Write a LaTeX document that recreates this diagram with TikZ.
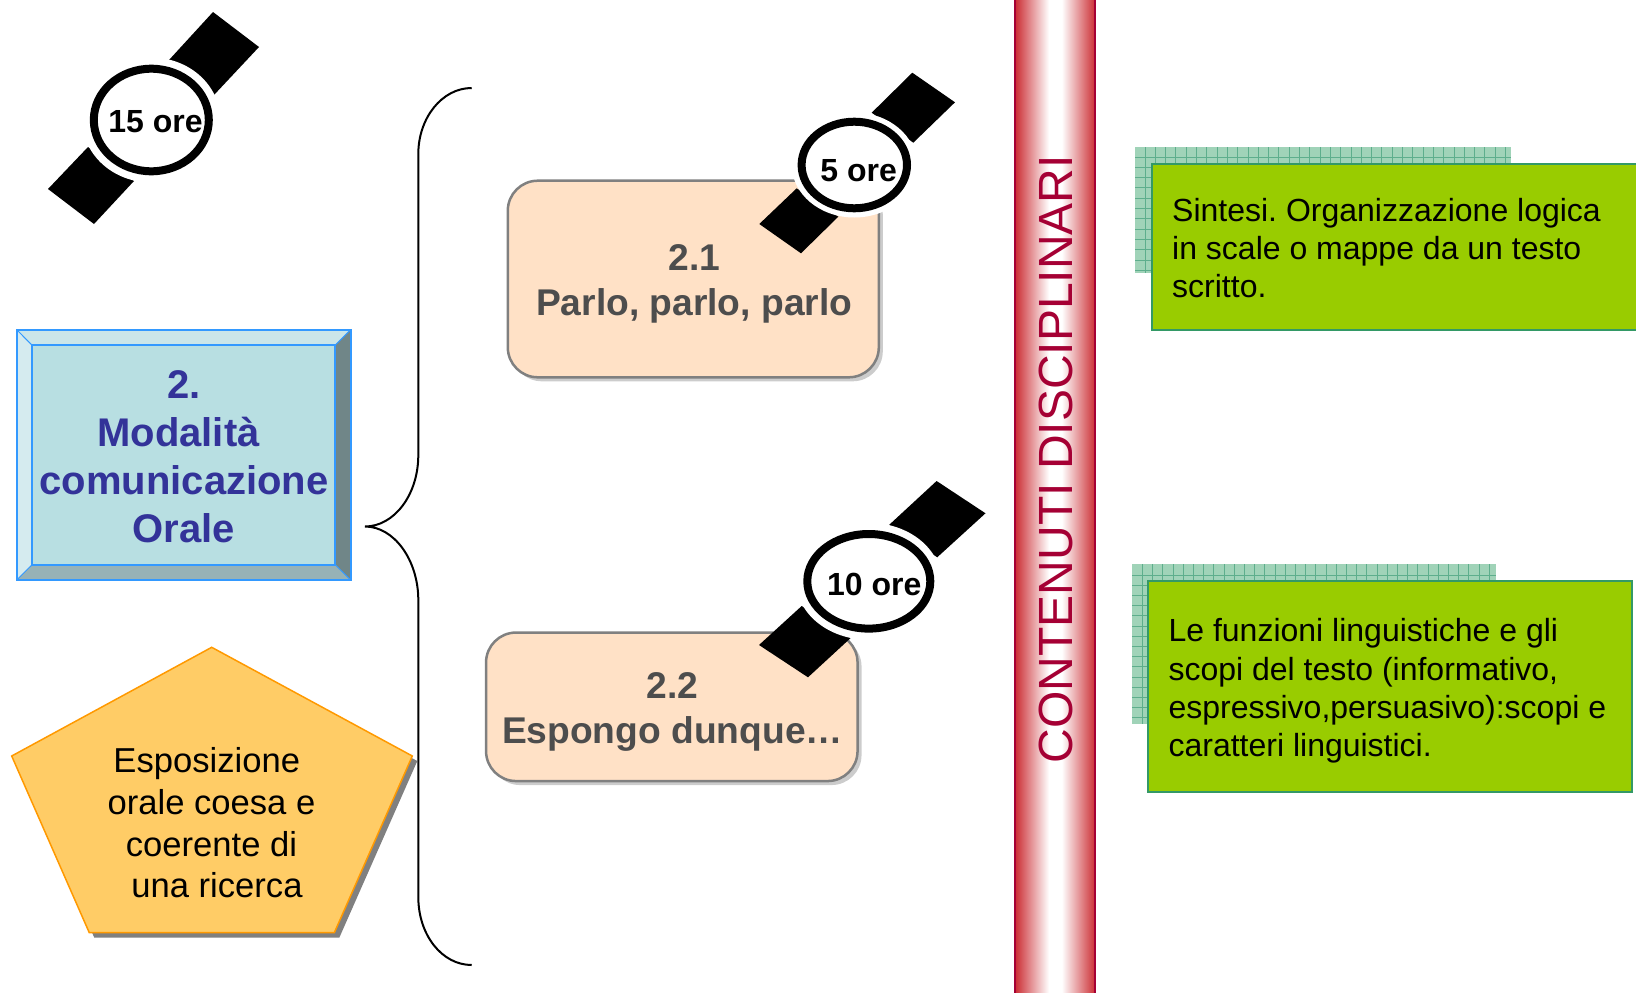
\documentclass[tikz,border=0pt]{standalone}
\usepackage{fontspec}
\setmainfont{Liberation Sans}
\usepackage{xcolor}
\usetikzlibrary{calc,shapes,shadows}

\definecolor{faccia}{HTML}{B8DFE2}
\definecolor{biancoblu}{HTML}{D5EBEF}
\definecolor{chiaroblu}{HTML}{CBE6E9}
\definecolor{scuroblu}{HTML}{708688}
\definecolor{medioblu}{HTML}{97B2B6}
\definecolor{bordoblu}{HTML}{3399FF}
\definecolor{testoblu}{HTML}{333399}
\definecolor{pesca}{HTML}{FFE1C6}
\definecolor{grigio}{HTML}{4D4D4D}
\definecolor{arancio}{HTML}{FFCC66}
\definecolor{bordoarancio}{HTML}{FF9900}
\definecolor{verde}{HTML}{99CC00}
\definecolor{bordoverde}{HTML}{339966}
\definecolor{trama}{HTML}{A0D3B8}
\definecolor{lineatrama}{HTML}{5DAE8C}
\definecolor{rossobarra}{HTML}{CC2F35}
\definecolor{bordobarra}{HTML}{A50034}

\pgfdeclarehorizontalshading{barrarossa}{100bp}{color(0bp)=(rossobarra);
	color(25bp)=(rossobarra); color(46bp)=(white); color(54bp)=(white);
	color(75bp)=(rossobarra); color(100bp)=(rossobarra)}

\begin{document}
\frenchspacing
\begin{tikzpicture}[x=1pt,y=-1pt,line join=miter]
		\tikzstyle{fase}=[draw=black!50,line width=2.5pt,fill=pesca,rounded corners=30pt,
			drop shadow={opacity=1,fill=black!20,shadow xshift=4pt,shadow yshift=-4pt}]
		\tikzstyle{titolofase}=[text=grigio,font=\fontsize{37.2}{44.5}\selectfont\bfseries,align=center,inner sep=0pt]
		\tikzstyle{casella}=[draw=bordoverde,line width=2pt,fill=verde,inner sep=0pt]
		\tikzstyle{testoverde}=[font=\fontsize{32}{38.4}\selectfont,align=left,anchor=west,inner sep=0pt]
		\tikzstyle{aureola}=[ellipse,fill=white,inner sep=0pt]
		\tikzstyle{quadrante}=[ellipse,draw=black,line width=8pt,inner sep=0pt]
		\tikzstyle{ore}=[font=\fontsize{32}{38}\selectfont\bfseries,inner sep=0pt]
		\tikzstyle{griglia}=[draw=lineatrama,line width=1pt]

		\clip (0,0) rectangle (1636,993);
		\useasboundingbox (0,0) rectangle (1636,993);

		\fill[faccia] (16.7,329.7) rectangle (350.6,580);
		\fill[chiaroblu] (16.7,329.7) -- (350.6,329.7) -- (335,345.4) -- (32.3,345.4) -- cycle;
		\fill[biancoblu] (16.7,329.7) -- (32.3,345.4) -- (32.3,564.5) -- (16.7,580) -- cycle;
		\fill[scuroblu] (350.6,329.7) -- (350.6,580) -- (335,564.5) -- (335,345.4) -- cycle;
		\fill[medioblu] (16.7,580) -- (350.6,580) -- (335,564.5) -- (32.3,564.5) -- cycle;
		\draw[bordoblu,line width=2pt] (16.7,329.7) rectangle (350.6,580);
		\draw[bordoblu,line width=2pt] (32.3,345.4) rectangle (335,564.5);
		\draw[bordoblu,line width=1pt] (16.7,329.7) -- (32.3,345.4) (350.6,329.7) -- (335,345.4)
			(16.7,580) -- (32.3,564.5) (350.6,580) -- (335,564.5);
		\node (modulo) [text=testoblu,font=\fontsize{40}{48}\selectfont\bfseries,align=center,inner sep=0pt]
			at (184,457) {2.\\Modalità\kern11pt\\comunicazione\\Orale};

		\filldraw[fill=arancio,draw=bordoarancio,line width=1.5pt,
			drop shadow={opacity=1,fill=black!50,shadow xshift=5pt,shadow yshift=-5pt}]
			(211.7,647.3) -- (412.3,756) -- (334.3,932.7) -- (89.3,932.7) -- (11.7,756) -- cycle;
		\node (obiettivo) [font=\fontsize{34.6}{41.7}\selectfont,align=center,inner sep=0pt] at (211.5,823)
			{Esposizione\hspace*{9.5pt}\\orale coesa e\\coerente di\\\hspace*{11pt}una ricerca};

		\coordinate (graffaA) at (471.7,88);
		\coordinate (graffaB) at (418.3,154);
		\coordinate (graffaC) at (418.3,455);
		\coordinate (punta) at (365,526.5);
		\coordinate (graffaD) at (418.3,600);
		\coordinate (graffaE) at (418.3,897);
		\coordinate (graffaF) at (471.7,965);
		\draw[line width=2pt] (graffaA) .. controls (442,88) and (418.3,118) .. (graffaB) -- (graffaC)
			.. controls (418.3,495) and (394,526.5) .. (punta)
			.. controls (394,526.5) and (418.3,560) .. (graffaD) -- (graffaE)
			.. controls (418.3,935) and (442,965) .. (graffaF);

		\node (fase1) [fase,minimum width=371pt,minimum height=196.6pt] at (693.3,279) {};
		\node (titolo1) [titolofase] at (694.2,284) {2.1\\Parlo, parlo, parlo};
		\node (fase2) [fase,minimum width=371.5pt,minimum height=148.5pt] at (671.8,706.8) {};
		\node (titolo2) [titolofase] at (672.5,712) {2.2\\Espongo dunque…};

		\fill (213,12) -- (259,47) -- (214,95) -- (169,60) -- cycle;
		\fill (48,189) -- (94,224) -- (134,181) -- (88,147) -- cycle;
		\node (aureola15) [aureola,minimum width=138pt,minimum height=125pt] at (151.3,120) {};
		\node (orologio15) [quadrante,minimum width=115pt,minimum height=102.6pt,fill=white] at (151.3,120) {};
		\node (ore15) [ore] at (155.5,121.5) {15 ore};

		\fill (912.3,72.7) -- (955,102.3) -- (913.3,142.7) -- (871.7,112.7) -- cycle;
		\fill (796.7,188.3) -- (759.3,224) -- (801,253.3) -- (838.3,216.7) -- cycle;
		\node (aureola5) [aureola,minimum width=125pt,minimum height=105pt] at (854.3,165) {};
		\node (orologio5) [quadrante,minimum width=105.4pt,minimum height=86.6pt,fill=white] at (854.3,165) {};
		\node (ore5) [ore] at (858.7,171) {5 ore};

		\fill (936.6,481) -- (985.5,513.3) -- (937.2,557.3) -- (889,525) -- cycle;
		\fill (759,645) -- (808,677.3) -- (851,637.7) -- (801.7,606) -- cycle;
		\node (aureola10) [aureola,minimum width=145pt,minimum height=117pt] at (868.8,581.3) {};
		\node (orologio10) [quadrante,minimum width=123pt,minimum height=94.6pt,fill=white] at (868.8,581.3) {};
		\node (ore10) [ore] at (874.3,584) {10 ore};

		\node (barra) [draw=bordobarra,line width=2pt,shading=barrarossa,minimum width=79.7pt,minimum height=1020pt] at (1055.3,496) {};
		\node (contenuti) [rotate=90,text=bordobarra,font=\fontsize{48}{50}\selectfont,inner sep=0pt] at (1056,459) {CONTENUTI DISCIPLINARI};

		\fill[trama] (1135,147) rectangle (1511,272.7);
		\foreach \x in {1145,1155.3,...,1511}
			\draw[griglia] (\x,147) -- (\x,272.7);
		\foreach \y in {157,167.3,...,272}
			\draw[griglia] (1135,\y) -- (1511,\y);
		\node (testiA) [casella,minimum width=500pt,minimum height=165.7pt,anchor=north west] at (1151,163) {};
		\node (sintesi) [testoverde] at (1172,248)
			{Sintesi. Organizzazione logica\\in scale o mappe da un testo\\scritto.};

		\fill[trama] (1132,564) rectangle (1496,724);
		\foreach \x in {1142.5,1152.7,...,1496}
			\draw[griglia] (\x,564) -- (\x,724);
		\foreach \y in {575,585.2,...,724}
			\draw[griglia] (1132,\y) -- (1496,\y);
		\node (testiB) [casella,minimum width=483.7pt,minimum height=211pt,anchor=north west] at (1147,580) {};
		\node (funzioni) [testoverde] at (1168.4,691)
			{Le funzioni linguistiche e gli\\scopi del testo (informativo,\\espressivo,persuasivo):scopi e\\caratteri linguistici.};
	\end{tikzpicture}
\end{document}
